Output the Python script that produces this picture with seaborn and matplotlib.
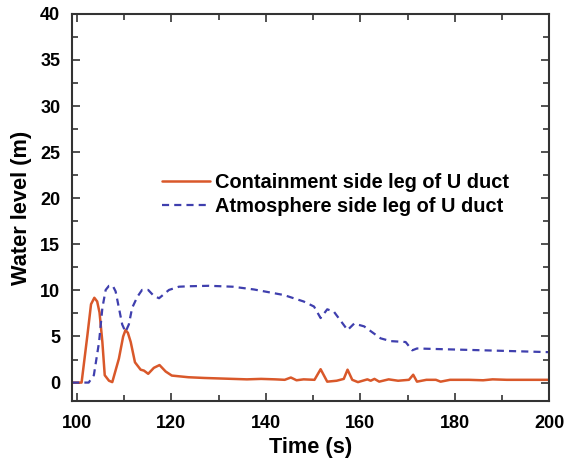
import numpy as np
import pandas as pd
import seaborn as sns
import matplotlib
matplotlib.use("Agg")
import matplotlib.pyplot as plt
from matplotlib.ticker import MultipleLocator

# containment side leg (solid)
t_cont = [99, 101, 102.2, 103.0, 103.7, 104.3, 104.8, 105.4, 105.9, 106.8, 107.5, 108.9, 109.8,
          110.3, 110.8, 111.4, 112.3, 113.5, 114.2, 115.1, 116.3, 117.5, 118.8, 120.1, 123.6,
          127, 130, 133, 136, 139, 142, 144, 145.3, 146.5, 148, 150.3, 151.6, 153, 155,
          156.5, 157.3, 158.3, 159.5, 161.5, 162.2, 163, 164, 166, 168, 170.3, 171.2, 172,
          174, 176, 177, 179, 183, 186, 188, 191, 195, 200]
h_cont = [0, 0, 5.0, 8.5, 9.2, 8.8, 7.6, 4.4, 0.8, 0.2, 0.05, 2.6, 5.0,
          5.7, 5.4, 4.4, 2.2, 1.4, 1.3, 0.95, 1.6, 1.9, 1.2, 0.76, 0.58,
          0.5, 0.45, 0.4, 0.35, 0.4, 0.35, 0.3, 0.55, 0.25, 0.35, 0.3, 1.45, 0.1, 0.2,
          0.4, 1.4, 0.3, 0.05, 0.35, 0.2, 0.4, 0.1, 0.35, 0.2, 0.3, 0.85, 0.1,
          0.3, 0.3, 0.1, 0.3, 0.3, 0.25, 0.35, 0.3, 0.3, 0.3]

# atmosphere side leg (dashed)
t_atm = [99, 102.5, 103.6, 104.7, 105.4, 106.1, 106.8, 107.6, 108.2, 108.9, 109.6, 110.3,
         111.0, 111.7, 112.8, 113.8, 115.1, 116.3, 117.4, 119.5, 121.6, 123.8, 128, 133,
         137.5, 143.8, 148, 150.2, 151.6, 153, 154.4, 157.3, 158.7, 160.8, 164.3, 166.4,
         169.6, 171, 172, 179, 189.7, 200]
h_atm = [0, 0, 0.8, 4.4, 8.1, 10.05, 10.5, 10.5, 9.9, 8.1, 6.3, 5.5,
         6.3, 8.1, 9.3, 10.05, 10.05, 9.4, 9.15, 10.05, 10.4, 10.45, 10.5, 10.4,
         10.1, 9.5, 8.8, 8.25, 7.0, 7.95, 7.7, 5.7, 6.4, 6.1, 4.8, 4.5,
         4.4, 3.5, 3.7, 3.6, 3.45, 3.3]

df_cont = pd.DataFrame({"time": t_cont, "level": h_cont})
df_atm = pd.DataFrame({"time": t_atm, "level": h_atm})

sns.set_style("ticks")
plt.rcParams["font.family"] = ["Liberation Sans", "DejaVu Sans"]
plt.rcParams["font.weight"] = "bold"
plt.rcParams["text.color"] = "black"
plt.rcParams["axes.labelcolor"] = "black"

fig = plt.figure(figsize=(5.68, 4.62), dpi=100)
ax = fig.add_axes([0.127, 0.132, 0.840, 0.838])

sns.lineplot(data=df_cont, x="time", y="level", ax=ax, color="#d9582a", lw=1.8,
             label="Containment side leg of U duct")
sns.lineplot(data=df_atm, x="time", y="level", ax=ax, color="#3f3fae", lw=1.6,
             linestyle=(0, (3.2, 2.3)), label="Atmosphere side leg of U duct")

ax.set_xlim(99, 200)
ax.set_ylim(-2, 40)
ax.xaxis.set_major_locator(MultipleLocator(20))
ax.xaxis.set_minor_locator(MultipleLocator(10))
ax.yaxis.set_major_locator(MultipleLocator(5))
ax.yaxis.set_minor_locator(MultipleLocator(2.5))
ax.tick_params(which="both", direction="in", top=True, right=True, width=1.2,
               labelsize=13, colors="#333333", labelcolor="black")
ax.tick_params(which="major", length=6)
ax.tick_params(which="minor", length=4)
ax.tick_params(axis="x", which="major", pad=10)
ax.tick_params(axis="y", which="major", pad=8.5)
for s in ax.spines.values():
    s.set_linewidth(1.5)
    s.set_color("#333333")
for lab in ax.get_xticklabels() + ax.get_yticklabels():
    lab.set_fontweight("bold")

ax.set_xlabel("Time (s)", fontsize=15.7, fontweight="bold", labelpad=4)
ax.set_ylabel("Water level (m)", fontsize=15.7, fontweight="bold", labelpad=6)

ax.legend(loc="center left", bbox_to_anchor=(0.151, 0.534), frameon=False,
          prop={"size": 14.4, "weight": "bold"}, handlelength=2.4, handletextpad=0.25,
          labelspacing=0.25)

fig.savefig("out.png", dpi=100)
